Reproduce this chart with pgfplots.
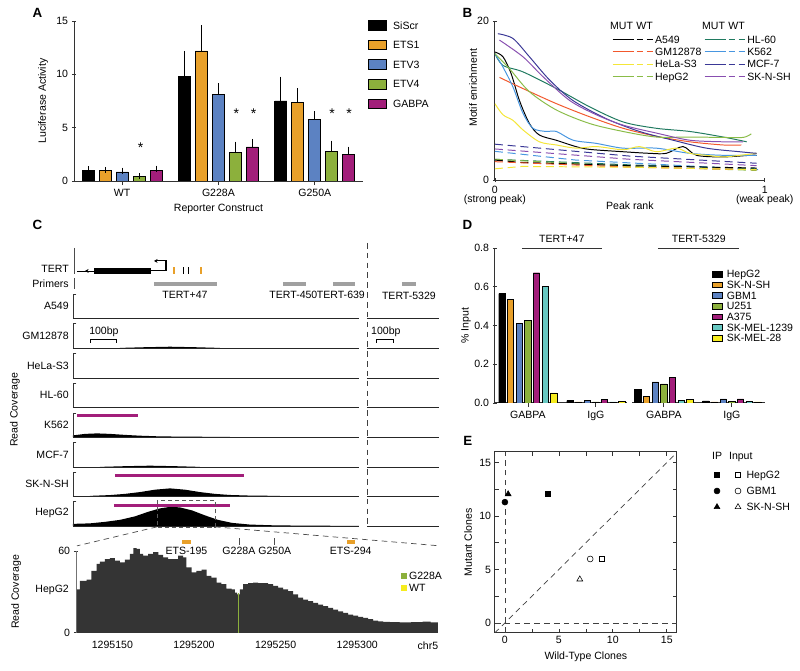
\documentclass[border=0pt]{standalone}
\usepackage{fontspec}
\setmainfont{Liberation Sans}
\usepackage{pgfplots}
\pgfplotsset{compat=1.18}
\usetikzlibrary{arrows.meta}

\definecolor{cOra}{RGB}{232,160,42}
\definecolor{cBlu}{RGB}{92,130,194}
\definecolor{cGrn}{RGB}{140,176,60}
\definecolor{cMag}{RGB}{162,30,122}
\definecolor{cTeal}{RGB}{104,200,194}
\definecolor{cYel}{RGB}{246,236,30}
\definecolor{bGM}{RGB}{242,88,44}
\definecolor{bHeLa}{RGB}{244,230,56}
\definecolor{bHep}{RGB}{138,188,72}
\definecolor{bHL}{RGB}{32,122,96}
\definecolor{bK}{RGB}{72,150,224}
\definecolor{bMCF}{RGB}{58,56,150}
\definecolor{bSK}{RGB}{136,78,176}
\definecolor{cHist}{RGB}{52,52,52}
\definecolor{cPrim}{RGB}{160,160,160}

\def\U{0.025cm}

\pgfplotsset{
  every axis/.append style={
    scale only axis,
    /pgf/number format/assume math mode=true,
    axis line style={black!80, line width=0.6pt},
    tick style={black!80, line width=0.5pt},
    major tick length=3pt,
    tick align=outside,
    legend cell align=left,
    legend style={draw=none, fill=none, inner sep=0pt,
      nodes={inner sep=0pt, text height=5.4pt, text depth=0pt}},
  },
  barA/.style={fill=#1, draw=black, line width=0.4pt,
    error bars/.cd, y dir=plus, y explicit,
    error bar style={black, line width=0.6pt},
    error mark options={black, line width=0.6pt, mark size=2.2pt}},
  barD/.style={fill=#1, draw=black, line width=0.3pt},
}

\begin{document}
\fontsize{7.5}{9}\selectfont
\begin{tikzpicture}
\path[use as bounding box] (0,0) rectangle (20cm,-16.775cm);

% ---------------- A
\begin{axis}[at={({74*\U},{-181*\U})}, anchor=south west,
  width={289*\U}, height={160*\U},
  xmin=-0.5, xmax=2.5, ymin=0, ymax=15, enlarge x limits=false,
  axis lines=left, axis line style={-},
  ybar=0.125cm, bar width=0.3cm,
  xtick={0,1,2}, xticklabels={WT,G228A,G250A}, ytick={0,5,10,15},
  xlabel={Reporter Construct}, ylabel={Luciferase Activity},
  ylabel style={at={(axis description cs:-0.107,0.5)}, anchor=center},
  legend image code/.code={\draw[#1,line width=0.4pt] (0cm,-0.12cm) rectangle (0.45cm,0.12cm);},
  legend style={at={(1.017,1.006)}, anchor=north west, row sep=6.7pt,
    /tikz/every odd column/.append style={column sep=4.6pt}}]
\addplot[barA=black] coordinates {(0,1.0) +- (0,0.1) (1,9.8) +- (0,2.1) (2,7.5) +- (0,2.0)};
\addlegendentry{SiScr}
\addplot[barA=cOra] coordinates {(0,1.0) +- (0,0.04) (1,12.2) +- (0,2.1) (2,7.4) +- (0,1.0)};
\addlegendentry{ETS1}
\addplot[barA=cBlu] coordinates {(0,0.85) +- (0,0.1) (1,8.1) +- (0,0.75) (2,5.8) +- (0,0.45)};
\addlegendentry{ETV3}
\addplot[barA=cGrn] coordinates {(0,0.4) +- (0,0.03) (1,2.7) +- (0,0.7) (2,2.8) +- (0,0.7)};
\addlegendentry{ETV4}
\addplot[barA=cMag] coordinates {(0,1.0) +- (0,0.15) (1,3.2) +- (0,0.45) (2,2.47) +- (0,0.46)};
\addlegendentry{GABPA}
\end{axis}

% ---------------- B
\begin{axis}[at={({495*\U},{-180*\U})}, anchor=south west,
  width={270*\U}, height={159*\U},
  xmin=0, xmax=1, ymin=0, ymax=20,
  axis lines=left, axis line style={-},
  xtick={0,1}, xticklabels={{0\\[-2.5pt](strong peak)},{1\\[-2.5pt](weak peak)}},
  xticklabel style={align=center}, ytick={0,20},
  xlabel={Peak rank}, xlabel style={at={(axis description cs:0.5,0)}, anchor=north, yshift=-13pt},
  ylabel={Motif enrichment}, ylabel style={at={(axis description cs:-0.081,0.58)}, anchor=center},
  legend columns=2,
  legend image code/.code={\draw[#1,solid] (0cm,0cm) -- (0.525cm,0cm);
     \draw[#1,solid,dash pattern=on 0.15cm off 0.1cm] (0.6cm,0cm) -- (1cm,0cm);},
  legend style={at={(0.433,0.909)}, anchor=north west, row sep=3.35pt,
    /tikz/every odd column/.append style={column sep=1.5pt},
    /tikz/every even column/.append style={column sep=2pt}},
  every axis plot/.append style={line width=0.7pt}]
% MUT (solid)
\addplot[black, smooth] coordinates {(0,16.1)(0.03,15.5)(0.06,13.4)(0.091,10)(0.128,7.1)(0.165,5.65)(0.227,5.0)(0.30,4.2)(0.35,3.85)(0.475,3.55)(0.573,3.35)(0.635,3.35)(0.697,4.2)(0.747,3.1)(0.845,2.9)(0.945,3.1)(0.97,3.1)};
\addlegendentry{A549}
\addplot[bHL, smooth] coordinates {(0,15.9)(0.03,14.4)(0.104,13.6)(0.228,11.5)(0.351,9.2)(0.475,7.3)(0.598,6.5)(0.722,6.1)(0.846,5.4)(0.933,4.8)};
\addlegendentry{HL-60}
\addplot[bGM, smooth] coordinates {(0.017,12.9)(0.104,11.5)(0.228,9.6)(0.351,7.95)(0.475,6.5)(0.598,5.5)(0.722,4.8)(0.846,4.4)(0.913,4.4)};
\addlegendentry{GM12878}
\addplot[bK, smooth] coordinates {(0,15.9)(0.03,14.2)(0.067,11.7)(0.104,8.4)(0.141,6.5)(0.19,6.1)(0.228,6.1)(0.29,5.0)(0.376,4.6)(0.475,4.0)(0.598,4.0)(0.722,3.35)(0.846,3.1)(0.97,3.1)};
\addlegendentry{K562}
\addplot[bHeLa, smooth] coordinates {(0,9.6)(0.03,8.2)(0.067,7.5)(0.104,6.3)(0.165,4.8)(0.228,4.4)(0.301,4.0)(0.376,4.2)(0.475,3.8)(0.536,4.2)(0.598,3.55)(0.672,4.0)(0.722,3.35)(0.784,3.1)(0.846,2.9)(0.907,3.1)(0.97,3.35)};
\addlegendentry{HeLa-S3}
\addplot[bMCF, smooth] coordinates {(0.011,18.4)(0.067,17.8)(0.128,15.5)(0.202,12.6)(0.289,10.0)(0.413,7.7)(0.536,6.1)(0.66,5.0)(0.784,4.0)(0.907,3.55)(0.97,3.35)};
\addlegendentry{MCF-7}
\addplot[bHep, smooth] coordinates {(0,15.9)(0.054,14.0)(0.128,11.1)(0.228,8.8)(0.351,7.1)(0.475,6.1)(0.598,5.4)(0.722,5.4)(0.846,5.35)(0.92,5.35)(0.95,5.8)};
\addlegendentry{HepG2}
\addplot[bSK, smooth] coordinates {(0.017,17.6)(0.104,15.5)(0.178,13.0)(0.277,10.0)(0.376,8.2)(0.475,6.9)(0.598,5.9)(0.722,5.0)(0.846,4.8)(0.92,4.8)};
\addlegendentry{SK-N-SH}
% WT (dashed)
\addplot[bMCF, dash pattern=on 0.2cm off 0.12cm, forget plot] coordinates {(0,4.5)(0.5,3.0)(0.97,2.1)};
\addplot[bSK, dash pattern=on 0.2cm off 0.12cm, forget plot] coordinates {(0,3.9)(0.5,2.6)(0.97,1.8)};
\addplot[bK, dash pattern=on 0.2cm off 0.12cm, forget plot] coordinates {(0,3.6)(0.3,2.5)(0.98,1.3)};
\addplot[bHL, dash pattern=on 0.2cm off 0.12cm, forget plot] coordinates {(0,2.6)(0.5,1.9)(0.97,1.4)};
\addplot[bHep, dash pattern=on 0.2cm off 0.12cm, forget plot] coordinates {(0,2.6)(0.5,1.7)(0.97,1.2)};
\addplot[black, dash pattern=on 0.2cm off 0.12cm, forget plot] coordinates {(0,2.5)(0.1,2.2)(0.5,1.8)(0.97,1.5)};
\addplot[bGM, dash pattern=on 0.2cm off 0.12cm, forget plot] coordinates {(0,2.3)(0.5,1.6)(0.97,1.3)};
\addplot[bHeLa, dash pattern=on 0.2cm off 0.12cm, forget plot] coordinates {(0,1.4)(0.1,1.7)(0.5,1.6)(0.97,1.3)};
\end{axis}

% ---------------- D
\begin{axis}[at={({495*\U},{-403*\U})}, anchor=south west,
  width={270*\U}, height={155*\U},
  xmin=-0.485, xmax=3.485, ymin=0, ymax=0.8, enlarge x limits=false,
  axis lines=left, axis line style={-},
  ybar=0.059cm, bar width=0.1575cm,
  xtick={0,1,2,3}, xticklabels={GABPA,IgG,GABPA,IgG},
  ytick={0,0.2,0.4,0.6,0.8},
  yticklabel style={/pgf/number format/.cd, fixed, fixed zerofill, precision=1},
  ylabel={\% Input}, ylabel style={at={(axis description cs:-0.107,0.5)}, anchor=center},
  legend image code/.code={\draw[#1,line width=0.3pt] (0cm,-0.07cm) rectangle (0.25cm,0.07cm);},
  legend style={at={(0.804,0.858)}, anchor=north west, row sep=2.2pt,
    /tikz/every odd column/.append style={column sep=3pt}}]
\addplot[barD=black] coordinates {(0,0.564)(1,0.012)(2,0.069)(3,0.010)};
\addlegendentry{HepG2}
\addplot[barD=cOra] coordinates {(0,0.534)(1,0.005)(2,0.034)(3,0.005)};
\addlegendentry{SK-N-SH}
\addplot[barD=cBlu] coordinates {(0,0.410)(1,0.012)(2,0.109)(3,0.021)};
\addlegendentry{GBM1}
\addplot[barD=cGrn] coordinates {(0,0.426)(1,0.005)(2,0.098)(3,0.009)};
\addlegendentry{U251}
\addplot[barD=cMag] coordinates {(0,0.672)(1,0.017)(2,0.133)(3,0.021)};
\addlegendentry{A375}
\addplot[barD=cTeal] coordinates {(0,0.603)(1,0.005)(2,0.014)(3,0.007)};
\addlegendentry{SK-MEL-1239}
\addplot[barD=cYel] coordinates {(0,0.052)(1,0.007)(2,0.017)(3,0.005)};
\addlegendentry{SK-MEL-28}
\end{axis}

% ---------------- E
\begin{axis}[at={({495*\U},{-633*\U})}, anchor=south west,
  width={182*\U}, height={181*\U},
  xmin=-0.93, xmax=15.93, ymin=-0.93, ymax=16,
  xtick={0,5,10,15}, ytick={0,5,10,15},
  minor x tick num=1, minor y tick num=1, tick align=inside,
  xlabel={Wild-Type Clones}, ylabel={Mutant Clones},
  legend style={at={(1.203,0.895)}, anchor=north west, row sep=6pt,
    /tikz/every odd column/.append style={column sep=4pt}}]
\addplot[black!75, dash pattern=on 4pt off 3pt, line width=0.5pt, forget plot] coordinates {(0,-0.93)(0,16)};
\addplot[black!75, dash pattern=on 4pt off 3pt, line width=0.5pt, forget plot] coordinates {(-0.93,0)(15.93,0)};
\addplot[black!75, dash pattern=on 4pt off 3pt, line width=0.5pt, forget plot] coordinates {(-0.93,-0.93)(15.93,15.93)};
\addplot[only marks, mark=square*, mark size=1.9pt, black, forget plot] coordinates {(4,12.05)};
\addplot[only marks, mark=square, mark size=1.9pt, black, forget plot] coordinates {(8.95,6)};
\addplot[only marks, mark=*, mark size=2.1pt, black, forget plot] coordinates {(0,11.3)};
\addplot[only marks, mark=o, mark size=2.1pt, black, forget plot] coordinates {(7.9,5.98)};
\addplot[only marks, mark=triangle*, mark size=2.4pt, black, forget plot] coordinates {(0.3,12.05)};
\addplot[only marks, mark=triangle, mark size=2.4pt, black, forget plot] coordinates {(6.94,4.08)};
\addlegendimage{legend image code/.code={
  \draw[black] plot[mark=square*, mark size=1.9pt] coordinates {(0cm,0cm)};
  \draw[black] plot[mark=square, mark size=1.9pt] coordinates {(0.525cm,0cm)};}}
\addlegendentry{HepG2}
\addlegendimage{legend image code/.code={
  \draw[black] plot[mark=*, mark size=2.1pt] coordinates {(0cm,0cm)};
  \draw[black] plot[mark=o, mark size=2.1pt] coordinates {(0.525cm,0cm)};}}
\addlegendentry{GBM1}
\addlegendimage{legend image code/.code={
  \draw[black] plot[mark=triangle*, mark size=2.4pt] coordinates {(0cm,0cm)};
  \draw[black] plot[mark=triangle, mark size=2.4pt] coordinates {(0.525cm,0cm)};}}
\addlegendentry{SK-N-SH}
\end{axis}

% ---------------- C, tracks (pixel-aligned schematic axis)
\begin{axis}[at={({73*\U},{-527*\U})}, anchor=south west,
  width={367*\U}, height={284*\U},
  xmin=73, xmax=440, ymin=-527, ymax=-243, hide axis, clip=false]
% primers
\addplot[cPrim, line width=0.1cm] coordinates {(154,-284.5)(217,-284.5)};
\addplot[cPrim, line width=0.1cm] coordinates {(283,-284.5)(306,-284.5)};
\addplot[cPrim, line width=0.1cm] coordinates {(333,-284.5)(355,-284.5)};
\addplot[cPrim, line width=0.1cm] coordinates {(402,-284.5)(416,-284.5)};
% baselines
\pgfplotsinvokeforeach{318,348,378,407,437,467,496,526}{
  \addplot[black!85, line width=0.5pt] coordinates {(73,-#1)(359,-#1)};
  \addplot[black!85, line width=0.5pt] coordinates {(367,-#1)(439,-#1)};
}
% coverage
\addplot[fill=black, draw=none] coordinates {(120,-348)(145,-347.3)(170,-346.8)(195,-347.3)(220,-348)};
\addplot[fill=black, draw=none] coordinates {(73,-437)(73,-435.5)(85,-434)(97,-433.5)(110,-434)(125,-435)(140,-435.8)(160,-436.5)(190,-436.8)(230,-437)};
\addplot[fill=black, draw=none] coordinates {(100,-467)(125,-466.3)(150,-465.8)(175,-466.3)(200,-467)};
\addplot[fill=black, draw=none] coordinates {(90,-496)(110,-495.2)(125,-494)(140,-492.2)(155,-489.8)(170,-488.5)(185,-489.8)(200,-492.2)(215,-494)(230,-495.1)(250,-495.7)(280,-496)};
\addplot[fill=black, draw=none] coordinates {(73,-526)(73,-524)(90,-523.5)(105,-522)(120,-520)(135,-516.5)(148,-512)(160,-508.5)(170,-507)(180,-507.5)(192,-510.5)(205,-515.5)(218,-520)(232,-523)(250,-524.7)(275,-525.5)(310,-525.8)(359,-526)};
% GABPA peaks
\addplot[cMag, line width=0.07cm] coordinates {(77,-416)(138,-416)};
\addplot[cMag, line width=0.07cm] coordinates {(115,-476)(244,-476)};
\addplot[cMag, line width=0.07cm] coordinates {(114,-506)(230,-506)};
\end{axis}

% ---------------- C, HepG2 zoom
\begin{axis}[at={({76*\U},{-633*\U})}, anchor=south west,
  width={362*\U}, height={82*\U},
  xmin=127.7, xmax=349.4, ymin=0, ymax=60,
  axis lines=left, axis line style={-, black!55},
  xtick={150,200,250,300}, xticklabels={1295150,1295200,1295250,1295300},
  xticklabel style={yshift=-1.5pt},
  major x tick style={draw=none}, ytick={0,60}, clip=false,
  ylabel={Read Coverage}, ylabel style={at={(axis description cs:-0.165,0.5)}, anchor=center},
  legend image code/.code={\fill[#1] (0cm,-0.06cm) rectangle (0.12cm,0.06cm);},
  legend style={at={(0.898,0.744)}, anchor=north west, row sep=3.1pt,
    /tikz/every odd column/.append style={column sep=1.5pt}}]
\addplot[const plot, fill=cHist, draw=none, forget plot] coordinates {(128.2,31.9)(130.1,38)(134.2,39)(137.2,45.4)(140.3,50.4)(142.3,52.1)(145.4,54)(148.5,54.6)(151.5,52.8)(154.6,51.6)(157.7,53.6)(160.7,57.8)(162.8,62)(164.8,61.5)(166.8,57.8)(168.9,56.5)(171.9,57.8)(175,59)(178.1,57)(181.1,55.3)(184.2,54)(187.2,54)(190.3,56.5)(193.4,55.3)(195.4,47.9)(198.5,44.2)(201.5,45.4)(204.6,46.2)(207.7,41.7)(210.7,40.5)(213.8,36.8)(216.8,35.6)(219.9,32.3)(223,31.9)(225,29.4)(226.4,28.1)(228.1,31.9)(230.1,35.6)(233.2,36.3)(236.2,36.8)(239.3,36.3)(242.3,36.3)(245.4,35.6)(248.5,34.3)(251.5,33.1)(254.6,31.9)(257.7,30.6)(260.7,28.1)(263.8,25.7)(266.8,24.4)(269.9,23.2)(272.9,22)(276,20.7)(279.1,19.5)(282.1,18.3)(285.2,17)(288.3,15.8)(291.3,14.6)(294.4,13.3)(297.4,12.6)(300.5,11.6)(303.6,10.9)(306.6,10.1)(309.7,8.9)(312.8,8.4)(315.8,8)(320,7.8)(326,7.6)(333,7.8)(340,8.3)(345,7.6)(349.4,7.6)} \closedcycle;
\addplot[color=cGrn, line width=0.025cm] coordinates {(227.5,0)(227.5,29.5)};
\addlegendentry{G228A}
\addlegendimage{color=cYel}
\addlegendentry{WT}
% site annotations
\fill[cOra] (axis cs:192.6,65.1) rectangle (axis cs:198.1,68.3);
\fill[cOra] (axis cs:293.6,65.1) rectangle (axis cs:298.5,68.3);
\draw[black!70, line width=0.5pt] (axis cs:227.5,64.4) -- (axis cs:227.5,69.6);
\draw[black!70, line width=0.5pt] (axis cs:249.5,64.4) -- (axis cs:249.5,69.6);
\node at (axis cs:195.4,60.3) {ETS-195};
\node at (axis cs:227.5,60.3) {G228A};
\node at (axis cs:249.5,60.3) {G250A};
\node at (axis cs:296,60.3) {ETS-294};
\node[anchor=east, inner sep=0pt] at (axis description cs:-0.019,0.525) {HepG2};
\end{axis}

% ---------------- annotations in pixel units
\begin{scope}[x=0.025cm, y=-0.025cm]
\foreach \l/\x/\y in {A/37.5/12.5, B/467.5/12.5, C/37.5/225, D/467.5/225, E/468/441}
  \node[font=\bfseries\fontsize{9.5}{11}\selectfont] at (\x,\y) {\l};
% stars in A
\foreach \x/\y in {140.7/146, 236.3/112, 253.7/112, 332.3/112, 349.3/112}
  \node[anchor=north, inner sep=0pt, font=\fontsize{10}{11}\selectfont] at (\x,\y-3.5) {*};
% B legend header
\node[anchor=west, inner sep=0pt] at (610,26) {MUT\hspace{2.5pt}WT};
\node[anchor=west, inner sep=0pt] at (702,26) {MUT\hspace{2.5pt}WT};
% D headers
\node at (562,239) {TERT+47};
\draw[black!80, line width=0.6pt] (522,248) -- (602,248);
\node at (699,239) {TERT-5329};
\draw[black!80, line width=0.6pt] (658,248) -- (739,248);
\fill[white] (627,402) rectangle (632,404.5);
% E legend header
\node[anchor=west, inner sep=0pt] at (712,457) {IP\hspace{5pt}Input};
% C track labels and brackets
\node[anchor=east, inner sep=0pt] at (69,269) {TERT};
\node[anchor=east, inner sep=0pt] at (69,284) {Primers};
\draw[black!70, line width=0.5pt] (74,248) -- (74,274);
\draw[black!70, line width=0.5pt] (74,278) -- (74,289);
\foreach \n/\t/\b in {A549/294/318, GM12878/323/348, HeLa-S3/353/378, HL-60/383/407,
                      K562/413/437, MCF-7/442/467, SK-N-SH/472/496, HepG2/501/526} {
  \draw[black!80, line width=0.5pt] (76.5,\t) -- (73,\t) -- (73,\b);
  \node[anchor=east, inner sep=0pt] at (69,{(\t+\b)/2}) {\n};
}
\node[rotate=90] at (15,410) {Read Coverage};
% gene model
\draw[line width=0.5pt] (77,271) -- (94,271);
\draw[line width=0.5pt, -{Stealth[length=2.6pt, width=2.8pt]}] (94,271) -- (85,271);
\fill (94,268) rectangle (151,274);
\draw[line width=0.8pt, -{Stealth[length=2.6pt, width=2.8pt]}] (151,271) -- (166,271) -- (166,261) -- (154,261);
\draw[cOra, line width=0.8pt] (174,267.5) -- (174,274.5) (201,267.5) -- (201,274.5);
\draw[black, line width=0.6pt] (183,267.5) -- (183,274.5) (188,267.5) -- (188,274.5);
% primer labels
\node at (185,295) {TERT+47};
\node at (293.5,295) {TERT-450};
\node at (341,295) {TERT-639};
\node at (409,296) {TERT-5329};
% scale bars
\draw[line width=0.6pt] (90,343) -- (90,340) -- (116,340) -- (116,343);
\node[anchor=west, inner sep=0pt] at (89,332) {100bp};
\draw[line width=0.6pt] (377,343) -- (377,340) -- (394,340) -- (394,343);
\node[anchor=west, inner sep=0pt] at (371,332) {100bp};
% separator and zoom box
\draw[black!75, line width=0.5pt, dash pattern=on 4pt off 3pt] (367,243) -- (367,526);
\draw[black!65, line width=0.5pt, dash pattern=on 3pt off 2pt] (157,500) rectangle (215,527);
\draw[black!70, line width=0.5pt, dash pattern=on 4pt off 3pt] (157,527) -- (77,546);
\draw[black!70, line width=0.5pt, dash pattern=on 4pt off 3pt] (215,527) -- (440,546);
\node at (428,646) {chr5};
\end{scope}
\end{tikzpicture}
\end{document}
